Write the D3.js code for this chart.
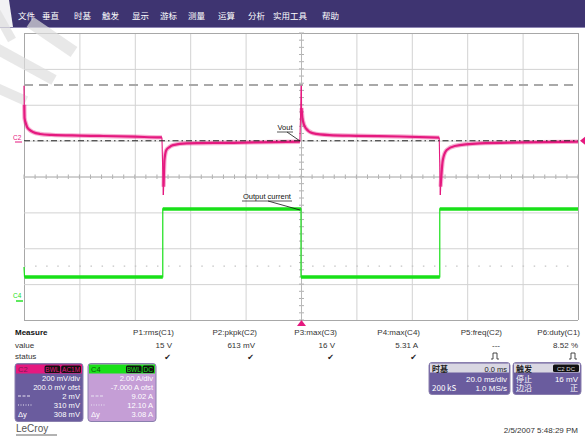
<!DOCTYPE html>
<html><head><meta charset="utf-8">
<script src="https://cdn.jsdelivr.net/npm/d3@7/dist/d3.min.js"></script>
<style>
html,body{margin:0;padding:0;background:#fff;}
svg{display:block;font-family:"Liberation Sans",Arial,sans-serif;}
</style></head>
<body><svg id="c" width="585" height="437"></svg>
<script>
// ---------- DATA ----------
const menuItems = ["文件","垂直","时基","触发","显示","游标","测量","运算","分析","实用工具","帮助"];
const menuX = [18,42,74,102,132,160,188,218,248,273,322];

// time in ms (20 ms/div, 10 div), C2 in mV, C4 in A
const c2Segments = [
  [[-100,306],[-99.9,200],[-99.8,126],[-99.3,95],[-98.9,76],[-98,60],[-96.8,48],[-94.2,37],[-90,32],[-80,28],[-72.6,26],[-60,22],[-50.9,18],[-50.2,18]],
  [[-49.7,-303],[-49.6,-257],[-49.3,-108],[-48.6,-52],[-47.5,-36],[-46.2,-25],[-41.3,-15],[-24.5,-12],[-10,-8],[-0.4,-6]],
  [[0.1,306],[0.2,182],[0.6,115],[1.7,70],[4.2,42],[10.3,31],[20,27],[35.6,23],[49.9,17]],
  [[50.3,-303],[50.4,-257],[51.2,-108],[52.6,-52],[55.5,-30],[64.5,-15],[80,-10],[100,-6]]
];
const c4Levels = [[-100,1.95],[-99.8,1.40],[-49.9,1.40],[-49.9,5.19],[0,5.19],[0,1.40],[50.1,1.40],[50.1,5.19],[100,5.19]];

const c2Cursors = [2, 310];          // mV  (dash-dot, dashed)
const measHeaders = ["P1:rms(C1)","P2:pkpk(C2)","P3:max(C3)","P4:max(C4)","P5:freq(C2)","P6:duty(C1)"];
const measValues  = ["15 V","613 mV","16 V","5.31 A","---","8.52 %"];
const measStatus  = ["check","check","check","check","pulse","pulse"];
const c2Box = ["200 mV/div","200.0 mV ofst","2 mV","310 mV","308 mV"];
const c4Box = ["2.00 A/div","-7.000 A ofst","9.02 A","12.10 A","3.08 A"];

// ---------- SETUP ----------
const svg = d3.select("#c");
const L=24,R=578,T=33,B=320;
const x = d3.scaleLinear().domain([-100,100]).range([L,R]);
const yDiv = d3.scaleLinear().domain([-4,4]).range([B,T]);
const yC2 = d3.scaleLinear().domain([-1000,600]).range([B,T]);
const yC4 = d3.scaleLinear().domain([-1,15]).range([B,T]);
const PINK="#e5197f", GREEN="#19e019", PURPLE="#6a5c9e";

// menu bar
svg.append("rect").attr("x",0).attr("y",0).attr("width",585).attr("height",27).attr("fill","#3e3471");
svg.append("line").attr("x1",0).attr("x2",585).attr("y1",27.5).attr("y2",27.5).attr("stroke","#8e86b4");
svg.append("path").attr("d","M0,0H9L13,27H0Z").attr("fill","#f2f2f4");
svg.selectAll("text.menu").data(menuItems).join("text").attr("class","menu")
  .attr("x",(d,i)=>menuX[i]).attr("y",19).attr("fill","#fff")
  .style("font-family","'Noto Sans CJK SC',sans-serif").style("font-size","8.5px").text(d=>d);

// grid
const g = svg.append("g");
g.append("rect").attr("x",L).attr("y",T).attr("width",R-L).attr("height",B-T).attr("fill","#fff");
const xt = d3.range(-100,101,20), yt = d3.range(-4,5,1);
g.selectAll("line.vx").data(xt).join("line").attr("x1",d=>x(d)+0.5).attr("x2",d=>x(d)+0.5)
  .attr("y1",T).attr("y2",B).attr("stroke",d=>(d===-100||d===100)?"#a8a8a8":"#d2d2d2").attr("stroke-width",1);
g.selectAll("line.hy").data(yt).join("line").attr("y1",d=>yDiv(d)+0.5).attr("y2",d=>yDiv(d)+0.5)
  .attr("x1",L).attr("x2",R).attr("stroke",d=>(d===-4||d===4)?"#a8a8a8":"#d2d2d2").attr("stroke-width",1);
// center ticks
const minorX = d3.range(-100,100.01,4), minorY = d3.range(-4,4.01,0.2);
g.selectAll("line.mx").data(minorX).join("line").attr("x1",d=>x(d)).attr("x2",d=>x(d))
  .attr("y1",yDiv(0)-2).attr("y2",yDiv(0)+2.5).attr("stroke","#b0b0b0");
g.selectAll("line.my").data(minorY).join("line").attr("y1",d=>yDiv(d)).attr("y2",d=>yDiv(d))
  .attr("x1",x(0)-2).attr("x2",x(0)+3).attr("stroke","#b0b0b0");
g.append("line").attr("x1",x(0)+0.5).attr("x2",x(0)+0.5).attr("y1",T).attr("y2",B).attr("stroke","#b8b8b8");
g.append("line").attr("x1",L).attr("x2",R).attr("y1",yDiv(0)+0.5).attr("y2",yDiv(0)+0.5).attr("stroke","#b8b8b8");
// dotted reference line
g.append("line").attr("x1",L).attr("x2",R).attr("y1",yDiv(-2.5)).attr("y2",yDiv(-2.5))
  .attr("stroke","#c4c4c4").attr("stroke-width",1.2).attr("stroke-dasharray","1.5,9.58");

// watermark stripes
const wm = svg.append("g").attr("stroke","#dedede").attr("stroke-opacity",0.7).attr("fill","none");
wm.append("line").attr("x1",30).attr("y1",22).attr("x2",74).attr("y2",52).attr("stroke-width",12);
wm.append("line").attr("x1",-12).attr("y1",44).attr("x2",54).attr("y2",80).attr("stroke-width",11);
wm.append("line").attr("x1",-12).attr("y1",84).attr("x2",26).attr("y2",101).attr("stroke-width",10);
wm.append("line").attr("x1",-6).attr("y1",8).attr("x2",12).attr("y2",40).attr("stroke-width",9);

// cursors
svg.append("line").attr("x1",L).attr("x2",R).attr("y1",yC2(c2Cursors[1])).attr("y2",yC2(c2Cursors[1]))
  .attr("stroke","#a9a9a9").attr("stroke-width",2).attr("stroke-dasharray","9,6");

// C4 trace
const line4 = d3.line().x(d=>x(d[0])).y(d=>yC4(d[1]));
svg.append("path").attr("d",line4(c4Levels)).attr("fill","none").attr("stroke",GREEN).attr("stroke-width",1.2);
for(let i=1;i<c4Levels.length;i++){
  if(c4Levels[i][1]===c4Levels[i-1][1]){
    svg.append("line").attr("x1",x(c4Levels[i-1][0])).attr("x2",x(c4Levels[i][0]))
      .attr("y1",yC4(c4Levels[i][1])).attr("y2",yC4(c4Levels[i][1]))
      .attr("stroke",GREEN).attr("stroke-width",3.6);
  }
}

// C2 trace
const line2 = d3.line().x(d=>x(d[0])).y(d=>yC2(d[1])).curve(d3.curveMonotoneX);
c2Segments.forEach((seg,i)=>{
  svg.append("path").attr("d",line2(seg.slice(1))).attr("fill","none").attr("stroke",PINK).attr("stroke-opacity",0.35).attr("stroke-width",4.4);
  svg.append("path").attr("d",line2(seg.slice(1))).attr("fill","none").attr("stroke",PINK).attr("stroke-width",2.2);
  svg.append("line").attr("x1",x(seg[0][0])).attr("x2",x(seg[1][0])).attr("y1",yC2(seg[0][1])).attr("y2",yC2(seg[1][1]))
    .attr("stroke",PINK).attr("stroke-width",1.2);
  if(i>0){
    const p = c2Segments[i-1][c2Segments[i-1].length-1];
    svg.append("line").attr("x1",x(p[0])).attr("x2",x(seg[0][0])).attr("y1",yC2(p[1])).attr("y2",yC2(seg[0][1]))
      .attr("stroke",PINK).attr("stroke-width",1.1);
  }
});
// dash-dot cursor over the trace
svg.append("line").attr("x1",L).attr("x2",R).attr("y1",yC2(c2Cursors[0])+0.5).attr("y2",yC2(c2Cursors[0])+0.5)
  .attr("stroke","#222").attr("stroke-width",1).attr("stroke-dasharray","6,3,1.5,3");

// annotations
svg.append("text").attr("x",285).attr("y",130).attr("text-anchor","middle").style("font-size","7.5px").attr("fill","#111").text("Vout");
svg.append("line").attr("x1",277).attr("x2",293).attr("y1",132).attr("y2",132).attr("stroke","#111").attr("stroke-width",0.7);
svg.append("line").attr("x1",287).attr("x2",300).attr("y1",132).attr("y2",141).attr("stroke","#111").attr("stroke-width",0.8);
svg.append("text").attr("x",267).attr("y",199).attr("text-anchor","middle").style("font-size","7.5px").attr("fill","#111").text("Output current");
svg.append("line").attr("x1",242).attr("x2",292).attr("y1",201).attr("y2",201).attr("stroke","#111").attr("stroke-width",0.7);
svg.append("line").attr("x1",268).attr("x2",300).attr("y1",201).attr("y2",210).attr("stroke","#111").attr("stroke-width",0.8);

// channel markers
svg.append("text").attr("x",13).attr("y",140).style("font-size","6.5px").attr("fill",PINK).text("C2");
svg.append("line").attr("x1",15).attr("x2",22).attr("y1",142).attr("y2",142).attr("stroke",PINK);
svg.append("text").attr("x",13).attr("y",298).style("font-size","6.5px").attr("fill",GREEN).text("C4");
svg.append("line").attr("x1",16).attr("x2",23).attr("y1",301).attr("y2",301).attr("stroke",GREEN).attr("stroke-width",1.4);
// trigger markers
svg.append("path").attr("d",`M${x(0)-4},${B+6}L${x(0)+0.5},${B}L${x(0)+5},${B+6}Z`).attr("fill",PINK);
svg.append("path").attr("d",`M${R+2},${yC2(0)}L${R+7},${yC2(0)-4}L${R+7},${yC2(0)+4}Z`).attr("fill",PINK);

// measure table
const colR = [174,257,337,420,502,580];
svg.append("text").attr("x",15).attr("y",335).style("font-size","8px").style("font-weight","bold").attr("fill","#111").text("Measure");
svg.append("text").attr("x",15).attr("y",348).style("font-size","8px").attr("fill","#333").text("value");
svg.append("text").attr("x",15).attr("y",359).style("font-size","8px").attr("fill","#333").text("status");
svg.selectAll("text.mh").data(measHeaders).join("text").attr("class","mh").attr("x",(d,i)=>colR[i]).attr("y",335)
  .attr("text-anchor","end").style("font-size","8px").attr("fill","#333").text(d=>d);
svg.selectAll("text.mv").data(measValues).join("text").attr("class","mv").attr("x",(d,i)=>colR[i]-2).attr("y",348)
  .attr("text-anchor","end").style("font-size","8px").attr("fill","#333").text(d=>d);
measStatus.forEach((s,i)=>{
  const cx = colR[i]-6;
  if(s==="check"){
    svg.append("text").attr("x",cx+3).attr("y",360).attr("text-anchor","end").style("font-family","'DejaVu Sans'").style("font-size","8px").attr("fill","#222").text("✔");
  } else {
    svg.append("path").attr("d",`M${cx-5},359H${cx-3}V353H${cx+1}V359H${cx+3}`).attr("fill","none").attr("stroke","#333").attr("stroke-width",0.9);
  }
});

// channel boxes
function chanBox(x0,w,hdrColor,bodyColor,label,badges,rows,txtHdr,badgeTxt){
  const gb = svg.append("g");
  gb.append("rect").attr("x",x0).attr("y",363.5).attr("width",w).attr("height",58).attr("rx",3).attr("fill",bodyColor).attr("stroke","#8a7fae").attr("stroke-width",1);
  gb.append("rect").attr("x",x0+1).attr("y",364.5).attr("width",w-2).attr("height",9).attr("fill",hdrColor);
  gb.append("text").attr("x",x0+3).attr("y",372).style("font-size","7.5px").attr("fill",txtHdr).text(label);
  let bx = x0+w-2;
  badges.slice().reverse().forEach(b=>{
    const bw = b.length*4.2+3;
    bx -= bw;
    gb.append("rect").attr("x",bx).attr("y",365.5).attr("width",bw).attr("height",7.5).attr("rx",1.5).attr("fill","#111");
    gb.append("text").attr("x",bx+bw/2).attr("y",371.6).attr("text-anchor","middle").style("font-size","6.5px").attr("fill",badgeTxt).text(b);
    bx -= 1;
  });
  const ys=[380.5,389.5,398.5,407.5,416.5];
  rows.forEach((r,i)=>gb.append("text").attr("x",x0+w-3).attr("y",ys[i]).attr("text-anchor","end").style("font-size","7.6px").attr("fill","#fff").text(r));
  gb.append("line").attr("x1",x0+3).attr("x2",x0+16).attr("y1",396).attr("y2",396).attr("stroke","#e8e4f2").attr("stroke-dasharray","3,1.5");
  gb.append("line").attr("x1",x0+3).attr("x2",x0+18).attr("y1",405).attr("y2",405).attr("stroke","#e8e4f2").attr("stroke-dasharray","1,1.5");
  gb.append("text").attr("x",x0+3).attr("y",416.5).style("font-size","7.6px").attr("fill","#fff").text("Δy");
}
chanBox(15,68,PINK,PURPLE,"C2",["BWL","AC1M"],c2Box,"#7a1a55",PINK);
chanBox(88,68,GREEN,"#c59ed6","C4",["BWL","DC"],c4Box,"#0a5a0a",GREEN);

// timebase & trigger boxes
function infoBox(x0,w,title,hdrRight,badge,rowsL,rowsR){
  const gb = svg.append("g");
  gb.append("rect").attr("x",x0).attr("y",362.5).attr("width",w).attr("height",32).attr("rx",3).attr("fill",PURPLE).attr("stroke","#8a7fae");
  gb.append("rect").attr("x",x0+1).attr("y",363.5).attr("width",w-2).attr("height",9).attr("fill","#d9d7e2");
  gb.append("text").attr("x",x0+3).attr("y",371.5).style("font-family","'Noto Sans CJK SC',sans-serif").style("font-size","8px").style("font-weight","bold").attr("fill","#222").text(title);
  if(hdrRight) gb.append("text").attr("x",x0+w-3).attr("y",371.5).attr("text-anchor","end").style("font-size","7.5px").attr("fill","#222").text(hdrRight);
  if(badge){
    gb.append("rect").attr("x",x0+w-28).attr("y",364.5).attr("width",26).attr("height",7.5).attr("rx",1.5).attr("fill","#111");
    gb.append("text").attr("x",x0+w-15).attr("y",370.8).attr("text-anchor","middle").style("font-size","6px").attr("fill","#ddd").text(badge);
  }
  const ys=[381.5,391];
  rowsL.forEach((t,i)=>{ if(t) gb.append("text").attr("x",x0+3).attr("y",ys[i]).style("font-family","'Noto Sans CJK SC','Liberation Sans',sans-serif").style("font-size","8px").attr("fill","#fff").text(t); });
  rowsR.forEach((t,i)=>gb.append("text").attr("x",x0+w-3).attr("y",ys[i]).attr("text-anchor","end").style("font-family","'Liberation Sans','Noto Sans CJK SC',sans-serif").style("font-size","8px").attr("fill","#fff").text(t));
}
infoBox(429,81,"时基","0.0 ms",null,["","200 kS"],["20.0 ms/div","1.0 MS/s"]);
infoBox(513,68,"触发",null,"C2 DC",["停止","边沿"],["16 mV","正"]);

// footer
svg.append("text").attr("x",16).attr("y",432).style("font-size","10px").attr("fill","#555").text("LeCroy");
svg.append("line").attr("x1",16).attr("x2",57).attr("y1",435).attr("y2",435).attr("stroke","#666").attr("stroke-width",1);
svg.append("text").attr("x",578).attr("y",433).attr("text-anchor","end").style("font-size","8px").attr("fill","#333").text("2/5/2007 5:48:29 PM");
</script></body></html>
